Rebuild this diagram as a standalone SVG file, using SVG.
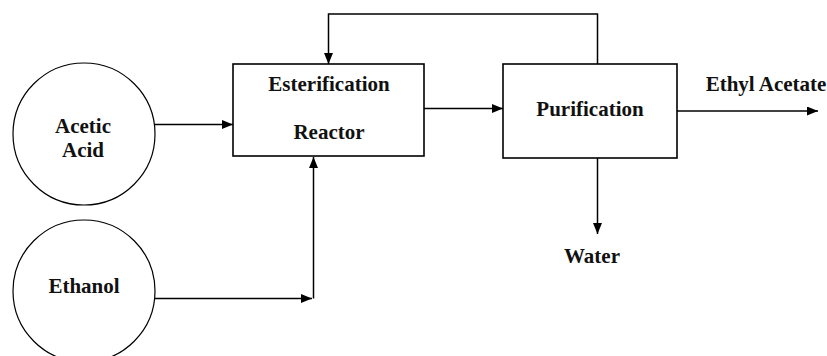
<svg xmlns="http://www.w3.org/2000/svg" width="827" height="356" viewBox="0 0 827 356">
<defs>
<marker id="ah" markerWidth="11" markerHeight="9" refX="11" refY="4.5" orient="auto" markerUnits="userSpaceOnUse">
<path d="M0,0 L11,4.5 L0,9 Z" fill="#000"/>
</marker>
<style>
.node{fill:#fff;stroke:#000;stroke-width:1.6}
.circ{fill:#fff;stroke:#000;stroke-width:1.2}
.lbl{font-family:"Liberation Serif","Times New Roman",serif;font-weight:bold;font-size:21px;fill:#111;text-anchor:middle}
.edge{fill:none;stroke:#000;stroke-width:1.5}
</style>
</defs>
<rect width="827" height="356" fill="#fff"/>
<g id="connectors">
<path class="edge" d="M155,124.5 L233,124.5" marker-end="url(#ah)"/>
<path class="edge" d="M155,298.5 L312,298.5" marker-end="url(#ah)"/>
<path class="edge" d="M313.5,298.5 L313.5,157" marker-end="url(#ah)"/>
<path class="edge" d="M424,108.5 L503,108.5" marker-end="url(#ah)"/>
<path class="edge" d="M597.5,64 L597.5,14 L328.5,14 L328.5,64" marker-end="url(#ah)"/>
<path class="edge" d="M677,111 L818,111" marker-end="url(#ah)"/>
<path class="edge" d="M597.5,158 L597.5,234" marker-end="url(#ah)"/>
</g>
<g id="acetic-acid">
<circle class="circ" cx="84" cy="134" r="71"/>
<text class="lbl" x="83" y="133">Acetic</text>
<text class="lbl" x="83" y="157">Acid</text>
</g>
<g id="ethanol">
<circle class="circ" cx="84" cy="291" r="71"/>
<text class="lbl" x="84" y="293">Ethanol</text>
</g>
<g id="reactor">
<rect class="node" x="233" y="64" width="191" height="92"/>
<text class="lbl" x="329" y="91">Esterification</text>
<text class="lbl" x="329" y="139">Reactor</text>
</g>
<g id="purification">
<rect class="node" x="503" y="64" width="174" height="94"/>
<text class="lbl" x="590" y="116">Purification</text>
</g>
<g id="ethyl-acetate">
<text class="lbl" x="766" y="91">Ethyl Acetate</text>
</g>
<g id="water">
<text class="lbl" x="592" y="263">Water</text>
</g>
</svg>
